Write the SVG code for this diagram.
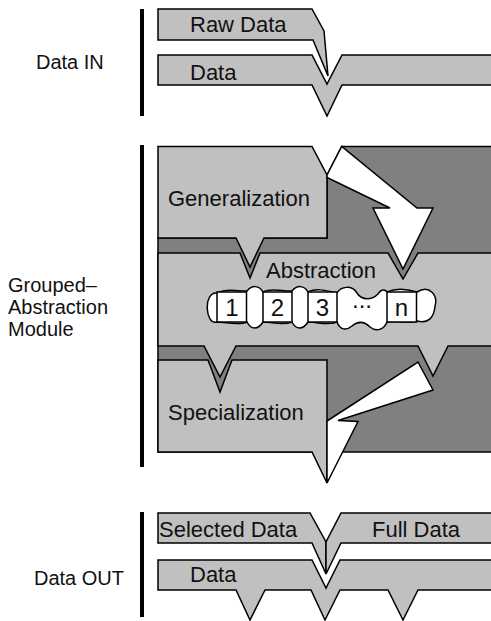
<svg xmlns="http://www.w3.org/2000/svg" width="491" height="621" viewBox="0 0 491 621">
<style>
.lt{fill:#c0c0c0;stroke:#000;stroke-width:1.5;stroke-linejoin:miter}
.dk{fill:#808080;stroke:#000;stroke-width:1.5}
.wh{fill:#fff;stroke:#000;stroke-width:1.5;stroke-linejoin:miter}
.bar{fill:#000}
text{font-family:"Liberation Sans",Arial,sans-serif;fill:#111}
.t{font-size:22px}
.lab{font-size:20px}
.num{font-size:24px;text-anchor:middle}
</style>
<rect width="491" height="621" fill="#fff"/>
<g id="labels">
<text class="lab" x="36" y="69">Data IN</text>
<text class="lab" x="8" y="292">Grouped–</text>
<text class="lab" x="8" y="314">Abstraction</text>
<text class="lab" x="8" y="336">Module</text>
<text class="lab" x="34" y="585">Data OUT</text>
</g>
<g id="bars">
<rect class="bar" x="140" y="9" width="4" height="107"/>
<rect class="bar" x="140" y="145" width="4" height="322"/>
<rect class="bar" x="140" y="512" width="4" height="105"/>
</g>
<g id="data-in">
<g id="raw-data">
<path class="lt" d="M158,9 L312,9 L324,31 L328,76 L313,40 L158,40 Z"/>
<text class="t" x="190" y="32">Raw Data</text>
</g>
<g id="data-in-band">
<path class="lt" d="M158,55 L312,55 L327,84 L342,55 L493,55 L493,85 L342,85 L327,116 L312,85 L158,85 Z"/>
<text class="t" x="190" y="80">Data</text>
</g>
</g>
<g id="module">
<path id="module-bg" class="dk" d="M327,175 L341.7,146.5 L493,146.5 L493,452 L158,452 L158,238 L327,238 Z"/>
<g id="generalization">
<path class="lt" d="M158,146.5 L312,146.5 L327,175 L327,238 L264,238 L250,267 L236,238 L158,238 Z"/>
<text class="t" x="168" y="206">Generalization</text>
</g>
<g id="abstraction">
<path class="lt" d="M158,253 L240,253 L250,278 L260,253 L388,253 L403,279 L418,253 L493,253 L493,346 L448,346 L433,376 L418,346 L236,346 L220,377 L204,346 L158,346 Z"/>
<text class="t" x="266" y="278">Abstraction</text>
</g>
<g id="connectors">
<path class="wh" d="M327,175 L341.7,146.5 L417,208 L433,208 L403,269 L373,208 L390,208 L327,177.5 Z"/>
</g>
<g id="cloud">
<path class="wh" d="M217,293 C228,287 240,292 247,291 C252,285 259,285 263,292 C272,287 284,292 292,291 C297,285 304,285 308,292 C318,287 330,292 337,293 C341,286 352,285 357,293 C362,301 372,300 378,294 C381,289 385,289 387,292 C398,287 410,290 417,292 C430,284 438,296 435,306 C434,318 428,324 417,321 C410,324 398,320 387,322 C384,330 376,332 370,327 C364,321 358,321 352,326 C346,331 340,330 337,322 C328,326 318,322 308,322 C303,330 296,330 292,322 C283,326 272,322 263,322 C258,330 251,330 247,322 C238,326 226,322 217,322 C205,326 203,291 217,293 Z"/>
<g id="item-1"><rect class="wh" x="217" y="292" width="29.5" height="30"/><text class="num" x="232" y="316">1</text></g>
<g id="item-2"><rect class="wh" x="263" y="292" width="29" height="30"/><text class="num" x="277.5" y="316">2</text></g>
<g id="item-3"><rect class="wh" x="308" y="292" width="29" height="30"/><text class="num" x="322.5" y="316">3</text></g>
<text class="num" x="362" y="308">...</text>
<g id="item-n"><rect class="wh" x="387" y="292" width="29.5" height="30"/><text class="num" x="401.5" y="316">n</text></g>
</g>
<g id="specialization">
<path class="lt" d="M158,360 L208,360 L220,392 L232,360 L327,360 L327,483 L312,452 L158,452 Z"/>
<text class="t" x="168" y="420">Specialization</text>
</g>
<g id="connectors-2">
<path class="wh" d="M327,421 L418,362 L433,390 L338,420.5 L358,421.5 L327,483 Z"/>
</g>
</g>
<g id="data-out">
<g id="selected-data">
<path class="lt" d="M158,513 L310,513 L326,542 L326,574 L312,543 L158,543 Z"/>
<text class="t" x="159" y="537">Selected Data</text>
</g>
<g id="full-data">
<path class="lt" d="M341,513 L493,513 L493,543 L341,543 L326,574 L326,542 Z"/>
<text class="t" x="372" y="537">Full Data</text>
</g>
<g id="data-out-band">
<path class="lt" d="M158,560 L312,560 L326,588 L340,560 L493,560 L493,590 L418,590 L403,620 L388,590 L340,590 L325,620 L311,590 L265,590 L250,620 L236,590 L158,590 Z"/>
<text class="t" x="190" y="582">Data</text>
</g>
</g>
</svg>
